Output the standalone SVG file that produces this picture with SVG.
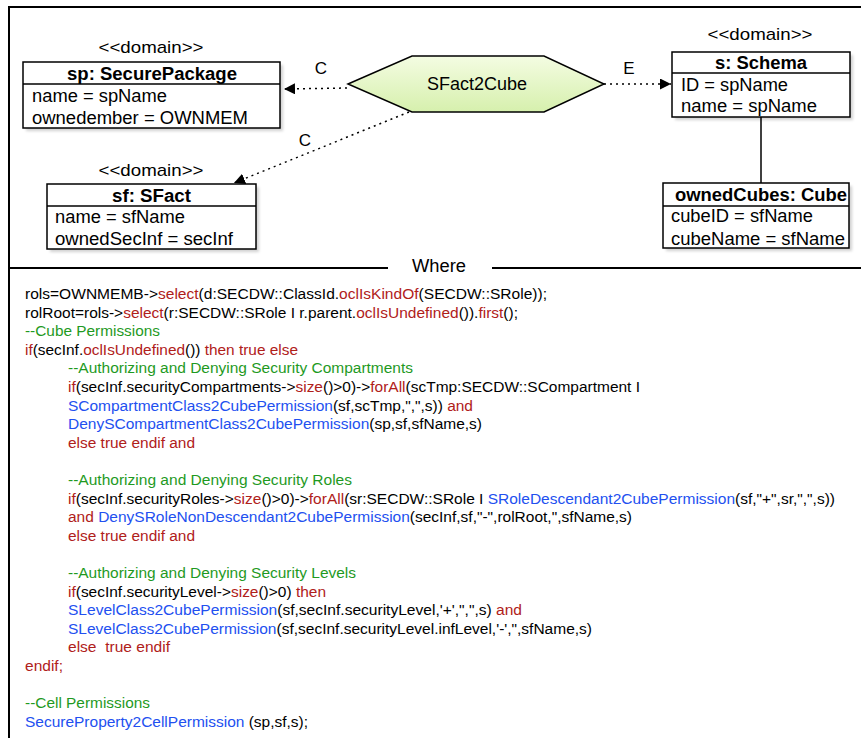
<svg xmlns="http://www.w3.org/2000/svg" width="861" height="738" viewBox="0 0 861 738">
<defs>
<style>
text{font-family:"Liberation Sans",Arial,Helvetica,sans-serif;fill:#000}
.st{font-size:17px;text-anchor:middle}
.hd{font-size:17.5px;font-weight:bold;text-anchor:middle}
.at{font-size:17.5px}
.lbl{font-size:17px;text-anchor:middle}
.box{fill:#fff;stroke:#000;stroke-width:1.5}
.sh{fill:#000;opacity:0.18}
.dot{fill:none;stroke:#000;stroke-width:1.5;stroke-dasharray:2 4}
.code{font-size:15.5px}
.r{fill:#b0201a}
.g{fill:#1f9a1f}
.b{fill:#2250f0}
</style>
<linearGradient id="hexg" x1="0" y1="0" x2="0" y2="1">
<stop offset="0" stop-color="#f4fce2"/>
<stop offset="1" stop-color="#d6f0ad"/>
</linearGradient>
<marker id="ah" viewBox="0 0 10 10" refX="10" refY="5" markerWidth="11" markerHeight="11" markerUnits="userSpaceOnUse" orient="auto">
<path d="M0,0 L10,5 L0,10 Z" fill="#000"/>
</marker>
<filter id="blur" x="-10%" y="-10%" width="120%" height="130%"><feGaussianBlur stdDeviation="1.5"/></filter>
</defs>
<rect width="861" height="738" fill="#fff"/>
<!-- frame -->
<path d="M9,738 V7 H861" fill="none" stroke="#000" stroke-width="2"/>
<path d="M9,268 H388 M492,268 H861" stroke="#000" stroke-width="2"/>
<text x="439" y="272" style="font-size:18px;text-anchor:middle" textLength="54" lengthAdjust="spacingAndGlyphs">Where</text>

<g id="connectors">
<line class="dot" x1="347" y1="88" x2="284" y2="89" marker-end="url(#ah)"/>
<text class="lbl" x="321" y="74">C</text>
<line class="dot" x1="409" y1="112" x2="234" y2="183" marker-end="url(#ah)"/>
<text class="lbl" x="305" y="146">C</text>
<line class="dot" x1="604" y1="84" x2="671" y2="84" marker-end="url(#ah)"/>
<text class="lbl" x="629" y="74">E</text>
<line x1="761" y1="117" x2="761" y2="183" stroke="#000" stroke-width="1.5"/>
</g>

<g id="sfact2cube">
<polygon points="348,84 412,56 544,56 604,84 544,112 412,112" fill="url(#hexg)" stroke="#000" stroke-width="1.5"/>
<text x="477" y="90" style="font-size:17.5px;text-anchor:middle" textLength="100" lengthAdjust="spacingAndGlyphs">SFact2Cube</text>
</g>

<g id="sp">
<text class="st" x="151" y="53" textLength="105" lengthAdjust="spacingAndGlyphs">&lt;&lt;domain&gt;&gt;</text>
<rect class="sh" x="26" y="65" width="257" height="66" filter="url(#blur)"/>
<rect class="box" x="23" y="62" width="257" height="66"/>
<line x1="23" y1="84" x2="280" y2="84" stroke="#000" stroke-width="1.5"/>
<text class="hd" x="152" y="80" textLength="170" lengthAdjust="spacingAndGlyphs">sp: SecurePackage</text>
<text class="at" x="32" y="102" textLength="135" lengthAdjust="spacingAndGlyphs">name = spName</text>
<text class="at" x="32" y="124" textLength="216" lengthAdjust="spacingAndGlyphs">ownedember = OWNMEM</text>
</g>

<g id="sf">
<text class="st" x="151" y="176" textLength="105" lengthAdjust="spacingAndGlyphs">&lt;&lt;domain&gt;&gt;</text>
<rect class="sh" x="50" y="187" width="209" height="65" filter="url(#blur)"/>
<rect class="box" x="47" y="184" width="209" height="65"/>
<line x1="47" y1="206" x2="256" y2="206" stroke="#000" stroke-width="1.5"/>
<text class="hd" x="151.5" y="202" textLength="79" lengthAdjust="spacingAndGlyphs">sf: SFact</text>
<text class="at" x="55" y="223" textLength="130" lengthAdjust="spacingAndGlyphs">name = sfName</text>
<text class="at" x="55" y="245" textLength="178" lengthAdjust="spacingAndGlyphs">ownedSecInf = secInf</text>
</g>

<g id="schema">
<text class="st" x="760" y="40" textLength="105" lengthAdjust="spacingAndGlyphs">&lt;&lt;domain&gt;&gt;</text>
<rect class="sh" x="675" y="55" width="178" height="65" filter="url(#blur)"/>
<rect class="box" x="672" y="52" width="178" height="65"/>
<line x1="672" y1="73" x2="850" y2="73" stroke="#000" stroke-width="1.5"/>
<text class="hd" x="761" y="69" textLength="92" lengthAdjust="spacingAndGlyphs">s: Schema</text>
<text class="at" x="681" y="91" textLength="107" lengthAdjust="spacingAndGlyphs">ID = spName</text>
<text class="at" x="681" y="112" textLength="136" lengthAdjust="spacingAndGlyphs">name = spName</text>
</g>

<g id="cube">
<rect class="sh" x="666" y="186" width="186" height="65" filter="url(#blur)"/>
<rect class="box" x="663" y="183" width="186" height="65"/>
<line x1="663" y1="206" x2="849" y2="206" stroke="#000" stroke-width="1.5"/>
<text class="hd" x="761" y="201" textLength="172" lengthAdjust="spacingAndGlyphs">ownedCubes: Cube</text>
<text class="at" x="671" y="222" textLength="142" lengthAdjust="spacingAndGlyphs">cubeID = sfName</text>
<text class="at" x="671" y="245" textLength="174" lengthAdjust="spacingAndGlyphs">cubeName = sfName</text>
</g>

<g id="code" class="code">
<text class="code" x="25" y="299" textLength="522" lengthAdjust="spacingAndGlyphs">rols=OWNMEMB-&gt;<tspan class="r">select</tspan>(d:SECDW::ClassId.<tspan class="r">oclIsKindOf</tspan>(SECDW::SRole));</text>
<text class="code" x="25" y="317.6" textLength="493" lengthAdjust="spacingAndGlyphs">rolRoot=rols-&gt;<tspan class="r">select</tspan>(r:SECDW::SRole I r.parent.<tspan class="r">oclIsUndefined</tspan>()).<tspan class="r">first</tspan>();</text>
<text class="code g" x="25" y="336.2" textLength="135" lengthAdjust="spacingAndGlyphs">--Cube Permissions</text>
<text class="code" x="25" y="354.8" textLength="273" lengthAdjust="spacingAndGlyphs"><tspan class="r">if</tspan>(secInf.<tspan class="r">oclIsUndefined</tspan>()) <tspan class="r">then true else</tspan></text>
<text class="code g" x="68" y="373.4" textLength="345" lengthAdjust="spacingAndGlyphs">--Authorizing and Denying Security Compartments</text>
<text class="code" x="68" y="392" textLength="572" lengthAdjust="spacingAndGlyphs"><tspan class="r">if</tspan>(secInf.securityCompartments-&gt;<tspan class="r">size</tspan>()&gt;0)-&gt;<tspan class="r">forAll</tspan>(scTmp:SECDW::SCompartment I</text>
<text class="code" x="68" y="410.6" textLength="405" lengthAdjust="spacingAndGlyphs"><tspan class="b">SCompartmentClass2CubePermission</tspan>(sf,scTmp,",",s)) <tspan class="r">and</tspan></text>
<text class="code" x="68" y="429.2" textLength="414" lengthAdjust="spacingAndGlyphs"><tspan class="b">DenySCompartmentClass2CubePermission</tspan>(sp,sf,sfName,s)</text>
<text class="code r" x="68" y="447.8" textLength="127" lengthAdjust="spacingAndGlyphs">else true endif and</text>
<text class="code g" x="68" y="485" textLength="284" lengthAdjust="spacingAndGlyphs">--Authorizing and Denying Security Roles</text>
<text class="code" x="68" y="503.6" textLength="767" lengthAdjust="spacingAndGlyphs"><tspan class="r">if</tspan>(secInf.securityRoles-&gt;<tspan class="r">size</tspan>()&gt;0)-&gt;<tspan class="r">forAll</tspan>(sr:SECDW::SRole I <tspan class="b">SRoleDescendant2CubePermission</tspan>(sf,"+",sr,",",s))</text>
<text class="code" x="68" y="522.2" textLength="564" lengthAdjust="spacingAndGlyphs"><tspan class="r">and</tspan> <tspan class="b">DenySRoleNonDescendant2CubePermission</tspan>(secInf,sf,"-",rolRoot,",sfName,s)</text>
<text class="code r" x="68" y="540.8" textLength="127" lengthAdjust="spacingAndGlyphs">else true endif and</text>
<text class="code g" x="68" y="578" textLength="288" lengthAdjust="spacingAndGlyphs">--Authorizing and Denying Security Levels</text>
<text class="code" x="68" y="596.6" textLength="258" lengthAdjust="spacingAndGlyphs"><tspan class="r">if</tspan>(secInf.securityLevel-&gt;<tspan class="r">size</tspan>()&gt;0) <tspan class="r">then</tspan></text>
<text class="code" x="68" y="615.2" textLength="454" lengthAdjust="spacingAndGlyphs"><tspan class="b">SLevelClass2CubePermission</tspan>(sf,secInf.securityLevel,'+',",",s) <tspan class="r">and</tspan></text>
<text class="code" x="68" y="633.8" textLength="524" lengthAdjust="spacingAndGlyphs"><tspan class="b">SLevelClass2CubePermission</tspan>(sf,secInf.securityLevel.infLevel,'-',",sfName,s)</text>
<text class="code r" x="68" y="652.4" xml:space="preserve" textLength="102" lengthAdjust="spacingAndGlyphs">else  true endif</text>
<text class="code r" x="25" y="671" textLength="38" lengthAdjust="spacingAndGlyphs">endif;</text>
<text class="code g" x="25" y="708.2" textLength="125" lengthAdjust="spacingAndGlyphs">--Cell Permissions</text>
<text class="code" x="25" y="726.8" textLength="283" lengthAdjust="spacingAndGlyphs"><tspan class="b">SecureProperty2CellPermission</tspan> (sp,sf,s);</text>
</g>
</svg>
